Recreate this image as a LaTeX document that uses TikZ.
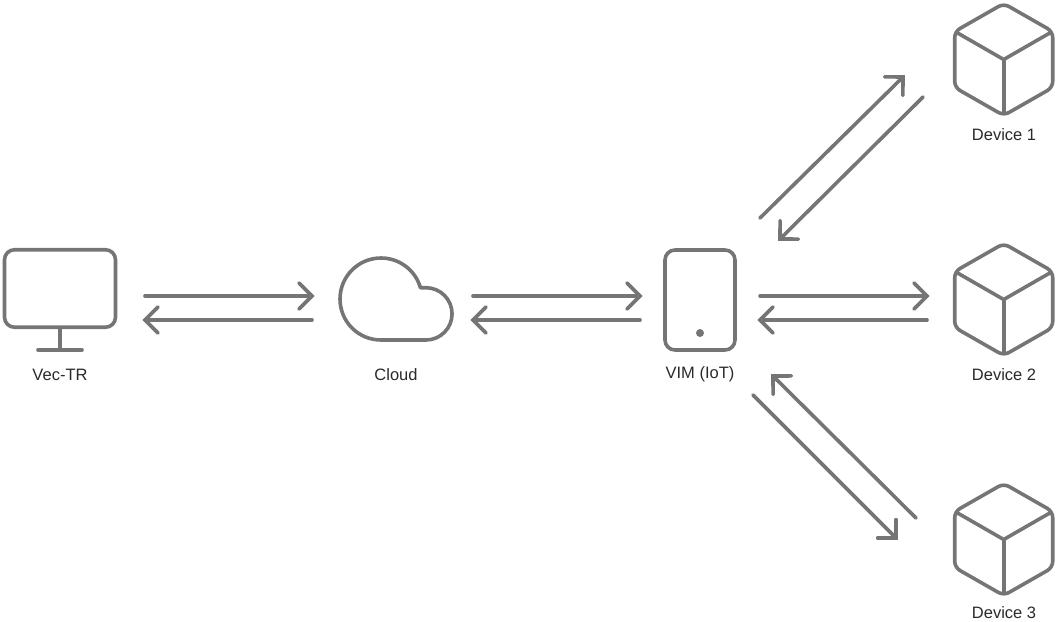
\documentclass[tikz,border=0pt]{standalone}
\usepackage{fontspec}
\setmainfont{Liberation Sans}
\usetikzlibrary{arrows.meta}
\definecolor{icongray}{HTML}{757575}
\definecolor{labelgray}{HTML}{2A2A2A}
\pgfdeclarearrow{
  name=Chevron,
  setup code={
    \pgfarrowssettipend{0pt}
    \pgfarrowssetlineend{-1pt}
    \pgfarrowssetvisualbackend{-13pt}
  },
  drawing code={
    \pgfsetlinewidth{3.6pt}
    \pgfsetroundcap
    \pgfsetmiterjoin
    \pgfpathmoveto{\pgfqpoint{-13pt}{13pt}}
    \pgfpathlineto{\pgfqpoint{0pt}{0pt}}
    \pgfpathlineto{\pgfqpoint{-13pt}{-13pt}}
    \pgfusepathqstroke
  }
}
\tikzset{
  iconline/.style={draw=icongray, line width=3.6pt, line cap=round, line join=round},
  link/.style={iconline, -{Chevron}},
  caption/.style={text=labelgray, font=\fontsize{16.5}{20}\selectfont, inner sep=0pt, anchor=center},
}
% one cube, placed by its centre
\newcommand{\cubeicon}[1]{
  \draw[iconline, rounded corners=6pt] (#1)+(0,-56) -- +(49,-28) -- +(49,28) -- +(0,56) -- +(-49,28) -- +(-49,-28) -- cycle;
  \draw[iconline] (#1)+(-47,-27) -- (#1) -- +(47,-27);
  \draw[iconline] (#1) -- +(0,54);
}
\begin{document}
\begin{tikzpicture}[x=1pt, y=-1pt]
    \useasboundingbox (0,0) rectangle (1064,621);
    % Vec-TR
    \node[iconline, minimum width=111pt, minimum height=77.5pt, rounded corners=10pt, inner sep=0pt] (vectr) at (60,288.5) {};
    \coordinate (vectrfoot) at (60,350);
    \coordinate (vectrbaseL) at (38,350);
    \coordinate (vectrbaseR) at (82,350);
    \draw[iconline] (vectr.south) -- (vectrfoot);
    \draw[iconline] (vectrbaseL) -- (vectrbaseR);
    \node[caption] (vectrlabel) at (60,374.5) {Vec-TR};
    % Cloud
    \coordinate (cloudstart) at (381,340);
    \draw[iconline] (cloudstart) arc[start angle=90, end angle=344, radius=41]
        -- ++(5.5,0) arc[start angle=270, end angle=450, radius=26.15] -- cycle;
    \node[caption] (cloudlabel) at (396,374.5) {Cloud};
    % VIM
    \node[iconline, minimum width=70pt, minimum height=100pt, rounded corners=10pt, inner sep=0pt] (vim) at (700,300) {};
    \node[circle, fill=icongray, minimum size=8pt, inner sep=0pt] (vimdot) at (700,333) {};
    \node[caption] (vimlabel) at (700,374.5) {VIM (IoT)};
    % Devices
    \coordinate (devA) at (1003.7,59.5);
    \coordinate (devB) at (1003.7,299.5);
    \coordinate (devC) at (1003.7,539.5);
    \cubeicon{devA}
    \cubeicon{devB}
    \cubeicon{devC}
    \node[caption] (devAlabel) at (1004,134.5) {Device 1};
    \node[caption] (devBlabel) at (1004,374.5) {Device 2};
    \node[caption] (devClabel) at (1004,613) {Device 3};
    % Arrow ends
    \coordinate (a1) at (145,296);
    \coordinate (a2) at (312,296);
    \coordinate (a3) at (145,320);
    \coordinate (a4) at (312,320);
    \coordinate (b1) at (473,296);
    \coordinate (b2) at (640,296);
    \coordinate (b3) at (473,320);
    \coordinate (b4) at (640,320);
    \coordinate (c1) at (760,296);
    \coordinate (c2) at (927,296);
    \coordinate (c3) at (760,320);
    \coordinate (c4) at (927,320);
    \coordinate (d1) at (760,218);
    \coordinate (d2) at (903,77);
    \coordinate (d3) at (780,239);
    \coordinate (d4) at (923,97);
    \coordinate (e1) at (753,395);
    \coordinate (e2) at (896,538);
    \coordinate (e3) at (773,376);
    \coordinate (e4) at (916,518);
    \draw[link] (a1) -- (a2);
    \draw[link] (a4) -- (a3);
    \draw[link] (b1) -- (b2);
    \draw[link] (b4) -- (b3);
    \draw[link] (c1) -- (c2);
    \draw[link] (c4) -- (c3);
    \draw[link] (d1) -- (d2);
    \draw[link] (d4) -- (d3);
    \draw[link] (e1) -- (e2);
    \draw[link] (e4) -- (e3);
\end{tikzpicture}
\end{document}
